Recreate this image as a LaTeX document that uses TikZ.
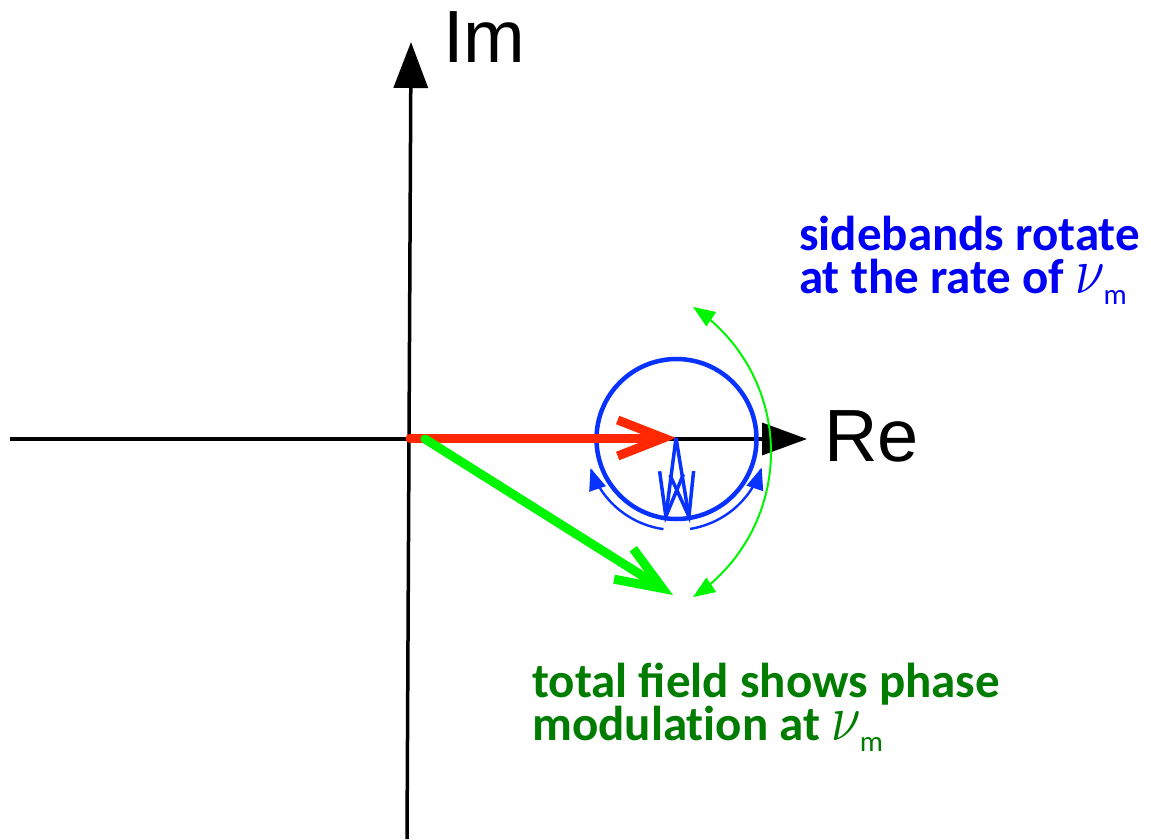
\documentclass[tikz,border=0pt]{standalone}
\usepackage{graphicx}
\usepackage{fontspec}
\setmainfont{Carlito}
\newfontfamily\axisfont{Liberation Sans}
\usetikzlibrary{arrows.meta,calc}
\definecolor{vred}{RGB}{255,40,0}
\definecolor{vgreen}{RGB}{0,245,0}
\definecolor{vblue}{RGB}{8,50,255}
\definecolor{tblue}{RGB}{0,0,245}
\definecolor{tgreen}{RGB}{0,125,0}
\tikzset{
  axisline/.style={line width=3.5pt,black},
  axislabel/.style={inner sep=0pt,anchor=base west,font=\axisfont\fontsize{74}{74}\selectfont},
  bigvec/.style={line width=9pt,line cap=round,-{Straight Barb[length=46pt,width=36pt]}},
  smallvec/.style={line width=3.5pt,vblue,-{Straight Barb[length=44pt,width=24pt]}},
  rotarc/.style={line width=2.4pt,-{Triangle[length=22pt,width=17pt]}},
  note/.style={inner sep=0pt,anchor=base west,font=\bfseries\fontsize{49}{49}\selectfont},
}
\newcommand{\numsub}{{\fontsize{10}{10}\selectfont\scalebox{5.3}[6.6]{$\nu$}}\kern-1pt\raisebox{-11pt}{\mdseries\fontsize{29}{29}\selectfont m}}
\begin{document}
\begin{tikzpicture}[x=1pt,y=-1pt]
\useasboundingbox (0,0) rectangle (1151,839);
% coordinates
\coordinate (xl) at (10,439);
\coordinate (xr) at (807,439);
\coordinate (yb) at (407,839);
\coordinate (yt) at (411,42);
\coordinate (O) at (410,438);
\coordinate (C) at (676,438);
\coordinate (Gs) at (425,439);
\coordinate (G) at (673,595);
\coordinate (S1) at (665,523);
\coordinate (S2) at (690,523);
% axes
\draw[axisline,-{Triangle[length=45pt,width=32pt]}] (xl) -- (xr);
\draw[axisline,-{Triangle[length=46pt,width=34pt]}] (yb) -- (yt);
\node[axislabel] (im) at (443,62) {Im};
\node[axislabel] (re) at (824,461) {Re};
% blue circle
\node[draw=vblue,line width=4.5pt,circle,minimum size=160pt,inner sep=0pt] (circ) at (676.5,439) {};
% rotation arcs
\draw[rotarc,vblue] plot[domain=98:161.8,samples=40,smooth] ({676+90*cos(\x)},{440+90*sin(\x)});
\draw[rotarc,vblue] plot[domain=81:17.8,samples=40,smooth] ({676+90*cos(\x)},{440+90*sin(\x)});
\draw[line width=2pt,vgreen,{Triangle[length=22pt,width=17pt]}-{Triangle[length=22pt,width=17pt]}]
  plot[domain=-56.5:56.5,samples=60,smooth] ({597+174*cos(\x)},{452+174*sin(\x)});
% vectors
\draw[bigvec,vred] (O) -- (C);
\draw[bigvec,vgreen] (Gs) -- (G);
\draw[smallvec] (C) -- (S1);
\draw[smallvec] (C) -- (S2);
% notes
\node[note,text=tblue] (sb1) at (799,250) {sidebands rotate};
\node[note,text=tblue] (sb2) at (799,293) {at the rate of \numsub};
\node[note,text=tgreen] (tf1) at (532,697) {total field shows phase};
\node[note,text=tgreen] (tf2) at (532,740) {modulat\kern0pt ion at \numsub};
\end{tikzpicture}
\end{document}
